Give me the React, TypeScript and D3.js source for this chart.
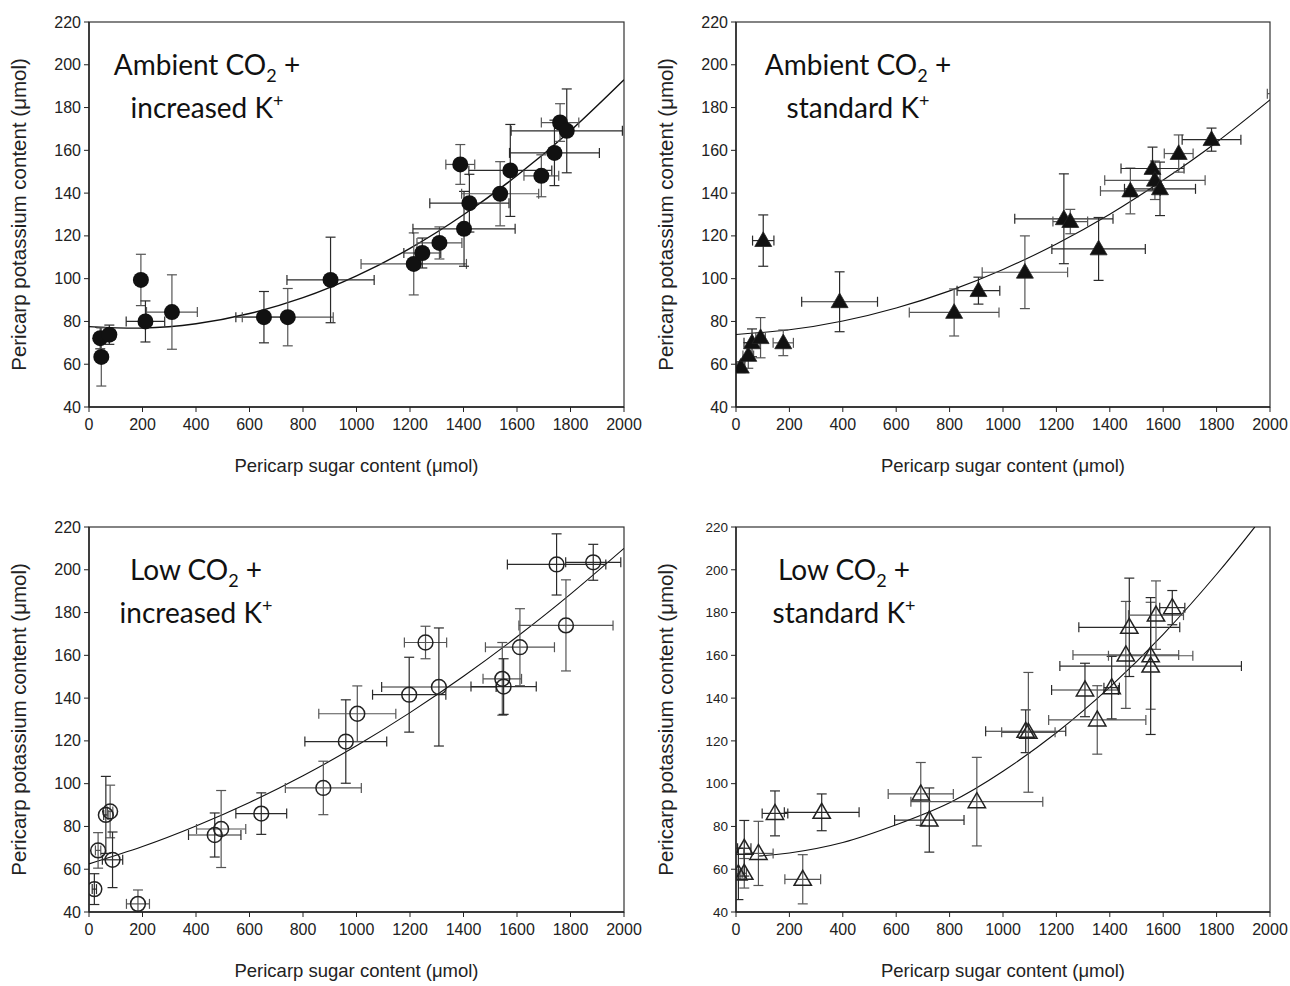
import * as d3 from "d3";

// points: x = pericarp sugar (µmol), y = pericarp K (µmol), xe / ye = error half-widths
const ambientIncreased = [
  { x: 42, y: 72.2, xe: 12, ye: 5 },
  { x: 46, y: 63.4, xe: 8, ye: 13.6 },
  { x: 76, y: 73.8, xe: 22, ye: 4.5 },
  { x: 194, y: 99.4, xe: 20, ye: 12 },
  { x: 211, y: 80, xe: 72, ye: 9.6 },
  { x: 310, y: 84.4, xe: 95, ye: 17.4 },
  { x: 654, y: 82, xe: 105, ye: 12 },
  { x: 743, y: 82, xe: 170, ye: 13.4 },
  { x: 903, y: 99.4, xe: 163, ye: 20 },
  { x: 1214, y: 106.9, xe: 197, ye: 14.5 },
  { x: 1246, y: 112, xe: 69, ye: 7 },
  { x: 1310, y: 116.7, xe: 84, ye: 7.5 },
  { x: 1402, y: 123.3, xe: 191, ye: 17.5 },
  { x: 1388, y: 153.4, xe: 54, ye: 9.3 },
  { x: 1422, y: 135.3, xe: 148, ye: 13.5 },
  { x: 1537, y: 139.7, xe: 144, ye: 15 },
  { x: 1575, y: 150.6, xe: 155, ye: 21.5 },
  { x: 1691, y: 148.1, xe: 65, ye: 9.8 },
  { x: 1740, y: 158.8, xe: 168, ye: 15.3 },
  { x: 1761, y: 173, xe: 70, ye: 8.8 },
  { x: 1786, y: 169.1, xe: 208, ye: 19.6 },
];

const ambientStandard = [
  { x: 18, y: 58.6, xe: 15, ye: 2.5 },
  { x: 46, y: 64.1, xe: 20, ye: 6 },
  { x: 60, y: 70, xe: 30, ye: 6.5 },
  { x: 92, y: 72.4, xe: 18, ye: 9.4 },
  { x: 102, y: 117.8, xe: 40, ye: 12 },
  { x: 177, y: 70, xe: 38, ye: 6 },
  { x: 388, y: 89.2, xe: 142, ye: 14 },
  { x: 817, y: 84.2, xe: 168, ye: 11 },
  { x: 908, y: 94.4, xe: 80, ye: 6.3 },
  { x: 1082, y: 103, xe: 160, ye: 17 },
  { x: 1228, y: 128, xe: 184, ye: 21 },
  { x: 1252, y: 126.7, xe: 65, ye: 5.7 },
  { x: 1358, y: 113.9, xe: 175, ye: 14.7 },
  { x: 1477, y: 141, xe: 112, ye: 10.7 },
  { x: 1560, y: 151.5, xe: 118, ye: 10 },
  { x: 1569, y: 146, xe: 188, ye: 9 },
  { x: 1588, y: 142, xe: 133, ye: 12.5 },
  { x: 1658, y: 158.5, xe: 54, ye: 8.7 },
  { x: 1781, y: 165, xe: 110, ye: 5.4 },
  { x: 2070, y: 186.5, xe: 80, ye: 6 },
];

const lowIncreased = [
  { x: 20, y: 50.7, xe: 8, ye: 7.2 },
  { x: 34, y: 68.8, xe: 10, ye: 8.3 },
  { x: 63, y: 85.4, xe: 8, ye: 18 },
  { x: 79, y: 87, xe: 10, ye: 12.3 },
  { x: 88, y: 64.4, xe: 38, ye: 13 },
  { x: 183, y: 43.8, xe: 43, ye: 6.5 },
  { x: 470, y: 76, xe: 98, ye: 10.3 },
  { x: 494, y: 78.8, xe: 92, ye: 18 },
  { x: 644, y: 86, xe: 95, ye: 9.7 },
  { x: 876, y: 98, xe: 142, ye: 12.5 },
  { x: 960, y: 119.7, xe: 153, ye: 19.5 },
  { x: 1003, y: 132.7, xe: 144, ye: 13 },
  { x: 1197, y: 141.6, xe: 137, ye: 17.5 },
  { x: 1258, y: 166, xe: 79, ye: 7.6 },
  { x: 1308, y: 145.2, xe: 214, ye: 27.6 },
  { x: 1545, y: 149, xe: 72, ye: 17 },
  { x: 1550, y: 145.4, xe: 122, ye: 13 },
  { x: 1611, y: 163.8, xe: 129, ye: 18 },
  { x: 1748, y: 202.5, xe: 184, ye: 14.3 },
  { x: 1783, y: 174, xe: 176, ye: 21.3 },
  { x: 1885, y: 203.5, xe: 103, ye: 8.4 },
];

const lowStandard = [
  { x: 9, y: 57.8, xe: 6, ye: 12 },
  { x: 31, y: 58.1, xe: 8, ye: 6.9 },
  { x: 31, y: 69.8, xe: 25, ye: 13 },
  { x: 84, y: 67.4, xe: 55, ye: 15 },
  { x: 146, y: 86.1, xe: 48, ye: 10.5 },
  { x: 250, y: 55.3, xe: 67, ye: 11.5 },
  { x: 321, y: 86.6, xe: 140, ye: 8.6 },
  { x: 692, y: 95.2, xe: 122, ye: 14.7 },
  { x: 724, y: 83, xe: 130, ye: 15 },
  { x: 902, y: 91.6, xe: 247, ye: 20.7 },
  { x: 1085, y: 124.5, xe: 150, ye: 10 },
  { x: 1095, y: 124, xe: 100, ye: 28 },
  { x: 1307, y: 143.8, xe: 125, ye: 12.5 },
  { x: 1353, y: 129.8, xe: 182, ye: 16 },
  { x: 1407, y: 144.9, xe: 29, ye: 14.6 },
  { x: 1460, y: 160.2, xe: 198, ye: 25 },
  { x: 1473, y: 173.1, xe: 189, ye: 23 },
  { x: 1553, y: 159.8, xe: 158, ye: 25 },
  { x: 1553, y: 155, xe: 340, ye: 32 },
  { x: 1573, y: 178.8, xe: 103, ye: 16 },
  { x: 1634, y: 182.3, xe: 47, ye: 8 },
];

// regression curves
const fitAmbientIncreased = [
  [0, 77.6], [200, 76.9], [400, 78.9], [600, 83.7], [800, 91.1], [1000, 101.3],
  [1200, 114.2], [1400, 129.9], [1600, 148.2], [1800, 169.2], [2000, 193],
];
const fitAmbientStandard = [
  [0, 73.9], [200, 76.1], [400, 80.2], [600, 86.3], [800, 94.3], [1000, 104.3],
  [1200, 116.2], [1400, 130.1], [1600, 146.1], [1800, 163.8], [2000, 183.6],
];
const fitLowIncreased = [
  [0, 62.5], [200, 70.6], [400, 80.2], [600, 91.2], [800, 103.7], [1000, 117.7],
  [1200, 133.2], [1400, 150.2], [1600, 168.7], [1800, 188.6], [2000, 210],
];
const fitLowStandard = [
  [84, 66.2], [200, 67.6], [400, 72.5], [600, 80.8], [800, 91.1], [1000, 105.8],
  [1200, 123.8], [1400, 145.1], [1600, 169.8], [1800, 197.9], [1943, 220],
];

const xTicks = [0, 200, 400, 600, 800, 1000, 1200, 1400, 1600, 1800, 2000];
const yTicks = [40, 60, 80, 100, 120, 140, 160, 180, 200, 220];

const xTitle = "Pericarp sugar content (\u03bcmol)";
const yTitle = "Pericarp potassium content (\u03bcmol)";

const AXIS_FONT = "'Liberation Sans', Arial, sans-serif";
const LABEL_FONT = "Lato, 'Open Sans', sans-serif";

type Pt = { x: number; y: number; xe: number; ye: number };

function Marker({ kind, cx, cy }: { kind: string; cx: number; cy: number }) {
  if (kind === "circleFilled") return <circle cx={cx} cy={cy} r={8} fill="#111" />;
  if (kind === "circleOpen")
    return <circle cx={cx} cy={cy} r={7.4} fill="none" stroke="#222" strokeWidth={1.5} />;
  const filled = kind === "triangleFilled";
  const path = d3.symbol(d3.symbolTriangle, filled ? 125 : 130)();
  return (
    <path
      d={path}
      transform={`translate(${cx},${cy + 1})`}
      fill={filled ? "#111" : "none"}
      stroke="#222"
      strokeWidth={filled ? 0.8 : 1.5}
    />
  );
}

function Panel({ id, left, top, w, h, points, fit, kind, line1, line2, labelX, yTickSize, curveWidth }: any) {
  const xs = d3.scaleLinear().domain([0, 2000]).range([0, w]);
  const ys = d3.scaleLinear().domain([40, 220]).range([h, 0]);
  const line = d3
    .line<number[]>()
    .x((d) => xs(d[0]))
    .y((d) => ys(d[1]))
    .curve(d3.curveNatural);
  const cap = 5;
  return (
    <g transform={`translate(${left},${top})`}>
      <defs>
        <clipPath id={id}>
          <rect x={0} y={0} width={w} height={h} />
        </clipPath>
      </defs>
      <rect x={0} y={0} width={w} height={h} fill="none" stroke="#333" strokeWidth={1.2} />
      <line x1={0} x2={0} y1={0} y2={h} stroke="#222" strokeWidth={1.4} />
      <line x1={0} x2={w} y1={h} y2={h} stroke="#222" strokeWidth={1.4} />
      {xTicks.map((t) => (
        <g key={t} transform={`translate(${xs(t)},${h})`}>
          <line y1={0} y2={5} stroke="#222" />
          <text y={23} textAnchor="middle" fontSize={16} fontFamily={AXIS_FONT} fill="#222">
            {t}
          </text>
        </g>
      ))}
      {yTicks.map((t) => (
        <g key={t} transform={`translate(0,${ys(t)})`}>
          <line x1={-5} x2={0} stroke="#222" />
          <text x={-8} dy="0.35em" textAnchor="end" fontSize={yTickSize} fontFamily={AXIS_FONT} fill="#222">
            {t}
          </text>
        </g>
      ))}
      <text
        x={w / 2}
        y={h + 65}
        textAnchor="middle"
        fontSize={18.5}
        fontFamily={AXIS_FONT}
        fill="#222"
      >
        {xTitle}
      </text>
      <text
        transform={`translate(${-63},${h / 2}) rotate(-90)`}
        textAnchor="middle"
        fontSize={20.5}
        fontFamily={AXIS_FONT}
        fill="#222"
      >
        {yTitle}
      </text>
      <g clipPath={`url(#${id})`}>
        <path d={line(fit) || ""} fill="none" stroke="#111" strokeWidth={curveWidth} />
        {points.map((p: Pt, i: number) => {
          const cx = xs(p.x);
          const cy = ys(p.y);
          const x1 = xs(p.x - p.xe);
          const x2 = xs(p.x + p.xe);
          const y1 = ys(p.y + p.ye);
          const y2 = ys(p.y - p.ye);
          const col = i % 2 ? "#555" : "#2a2a2a";
          return (
            <g key={i} stroke={col} strokeWidth={1.2}>
              <line x1={x1} x2={x2} y1={cy} y2={cy} />
              <line x1={x1} x2={x1} y1={cy - cap} y2={cy + cap} />
              <line x1={x2} x2={x2} y1={cy - cap} y2={cy + cap} />
              <line x1={cx} x2={cx} y1={y1} y2={y2} />
              <line x1={cx - cap} x2={cx + cap} y1={y1} y2={y1} />
              <line x1={cx - cap} x2={cx + cap} y1={y2} y2={y2} />
            </g>
          );
        })}
        {points.map((p: Pt, i: number) => (
          <Marker key={i} kind={kind} cx={xs(p.x)} cy={ys(p.y)} />
        ))}
      </g>
      <text x={labelX} y={53} textAnchor="middle" fontSize={28} fontFamily={LABEL_FONT} fill="#111">
        {line1}
        <tspan fontSize={18} dy={7}>2</tspan>
        <tspan dy={-7}> +</tspan>
      </text>
      <text x={labelX} y={96} textAnchor="middle" fontSize={28} fontFamily={LABEL_FONT} fill="#111">
        {line2}
        <tspan fontSize={18} dy={-11}>+</tspan>
      </text>
    </g>
  );
}

export default function App() {
  return (
    <svg
      width={1290}
      height={986}
      style={{ position: "absolute", left: 0, top: 0, background: "#fff" }}
    >
      <Panel id="c1" left={89} top={22} w={535} h={385} points={ambientIncreased} fit={fitAmbientIncreased}
        kind="circleFilled" line1="Ambient CO" line2="increased K" labelX={118} yTickSize={16} curveWidth={1.4} />
      <Panel id="c2" left={736} top={22} w={534} h={385} points={ambientStandard} fit={fitAmbientStandard}
        kind="triangleFilled" line1="Ambient CO" line2="standard K" labelX={122} yTickSize={16} curveWidth={1.1} />
      <Panel id="c3" left={89} top={527} w={535} h={385} points={lowIncreased} fit={fitLowIncreased}
        kind="circleOpen" line1="Low CO" line2="increased K" labelX={107} yTickSize={16} curveWidth={1.1} />
      <Panel id="c4" left={736} top={527} w={534} h={385} points={lowStandard} fit={fitLowStandard}
        kind="triangleOpen" line1="Low CO" line2="standard K" labelX={108} yTickSize={13.5} curveWidth={1.1} />
    </svg>
  );
}
